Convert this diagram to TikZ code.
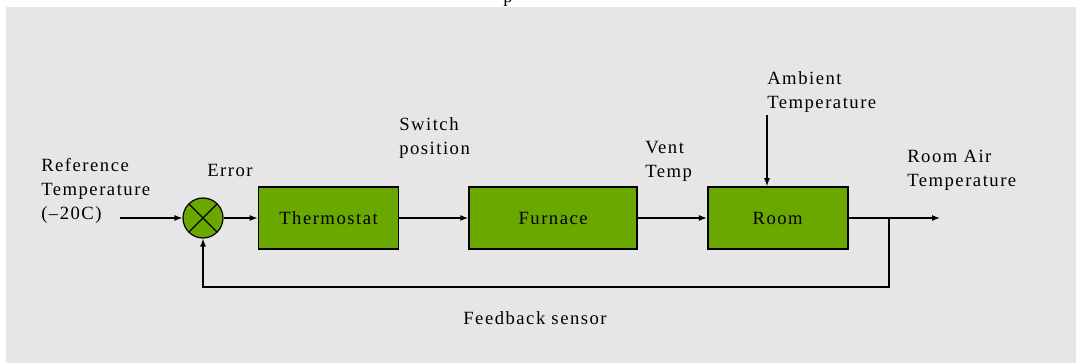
\documentclass[tikz,border=0pt]{standalone}
\usepackage{fontspec}
\setmainfont{Liberation Serif}[LetterSpace=8]
\usetikzlibrary{arrows.meta, positioning}

\definecolor{blockgreen}{RGB}{106,168,0}
\definecolor{panelgray}{RGB}{230,230,230}

\begin{document}
\begin{tikzpicture}[
    x=0.75pt, y=-0.75pt,
    every node/.style={font=\fontsize{14}{18}\selectfont},
    block/.style={
        rectangle,
        draw=black,
        fill=blockgreen,
        line width=1.2pt,
        minimum width=105pt,
        minimum height=46.5pt,
        inner sep=0pt
    },
    junction/.style={
        circle,
        draw=black,
        fill=blockgreen,
        line width=0.9pt,
        minimum size=30pt,
        inner sep=0pt,
        path picture={
            \draw[line width=0.8pt] (path picture bounding box.north west) -- (path picture bounding box.south east);
            \draw[line width=0.8pt] (path picture bounding box.north east) -- (path picture bounding box.south west);
        }
    },
    signal/.style={
        -{Latex[length=6pt, width=4.5pt]},
        line width=0.9pt
    },
    tag/.style={
        anchor=base west,
        align=left,
        inner sep=0pt
    }
]

    % BACKGROUND PANEL
    \useasboundingbox (0,0) rectangle (1076,363);
    \fill[panelgray] (6,7) rectangle (1076,363);
    \begin{scope}
        \clip (0,0) rectangle (1076,7);
        \node[tag] (caption) at (503,3) {p};
    \end{scope}

    % FORWARD PATH
    \node[junction] (sum) at (203,218) {};
    \node[block] (thermostat) at (328.5,218) {Thermostat};
    \node[block, minimum width=126pt] (furnace) [right=51.75pt of thermostat] {Furnace};
    \node[block] (room) [right=51.75pt of furnace] {Room};

    % OPEN ENDS
    \coordinate (ref in) at (120,218);
    \coordinate (out) at (940,218);
    \coordinate (branch) at (889,218);
    \coordinate (loop) at (889,287);
    \coordinate (ambient in) at (767,115);

    % SIGNALS
    \draw[signal] (ref in) -- (sum);
    \draw[signal] (sum) -- (thermostat);
    \draw[signal] (thermostat) -- (furnace);
    \draw[signal] (furnace) -- (room);
    \draw[signal] (room) -- (out);
    \draw[signal] (ambient in) -- (ambient in |- room.north);
    \draw[signal] (branch) -- (loop) -| (sum);

    % LABELS (base = last line)
    \node[tag] (ref label) at (41,220) {Reference\\Temperature\\(–20C)};
    \node[tag] (error label) at (207,177) {Error};
    \node[tag] (switch label) at (399,155) {Switch\\position};
    \node[tag] (vent label) at (645,178) {Vent\\Temp};
    \node[tag] (ambient label) at (767,109) {Ambient\\Temperature};
    \node[tag] (air label) at (907,187) {Room Air\\Temperature};
    \node[anchor=base] (sensor label) at (535,325) {Feedback sensor};

\end{tikzpicture}
\end{document}
